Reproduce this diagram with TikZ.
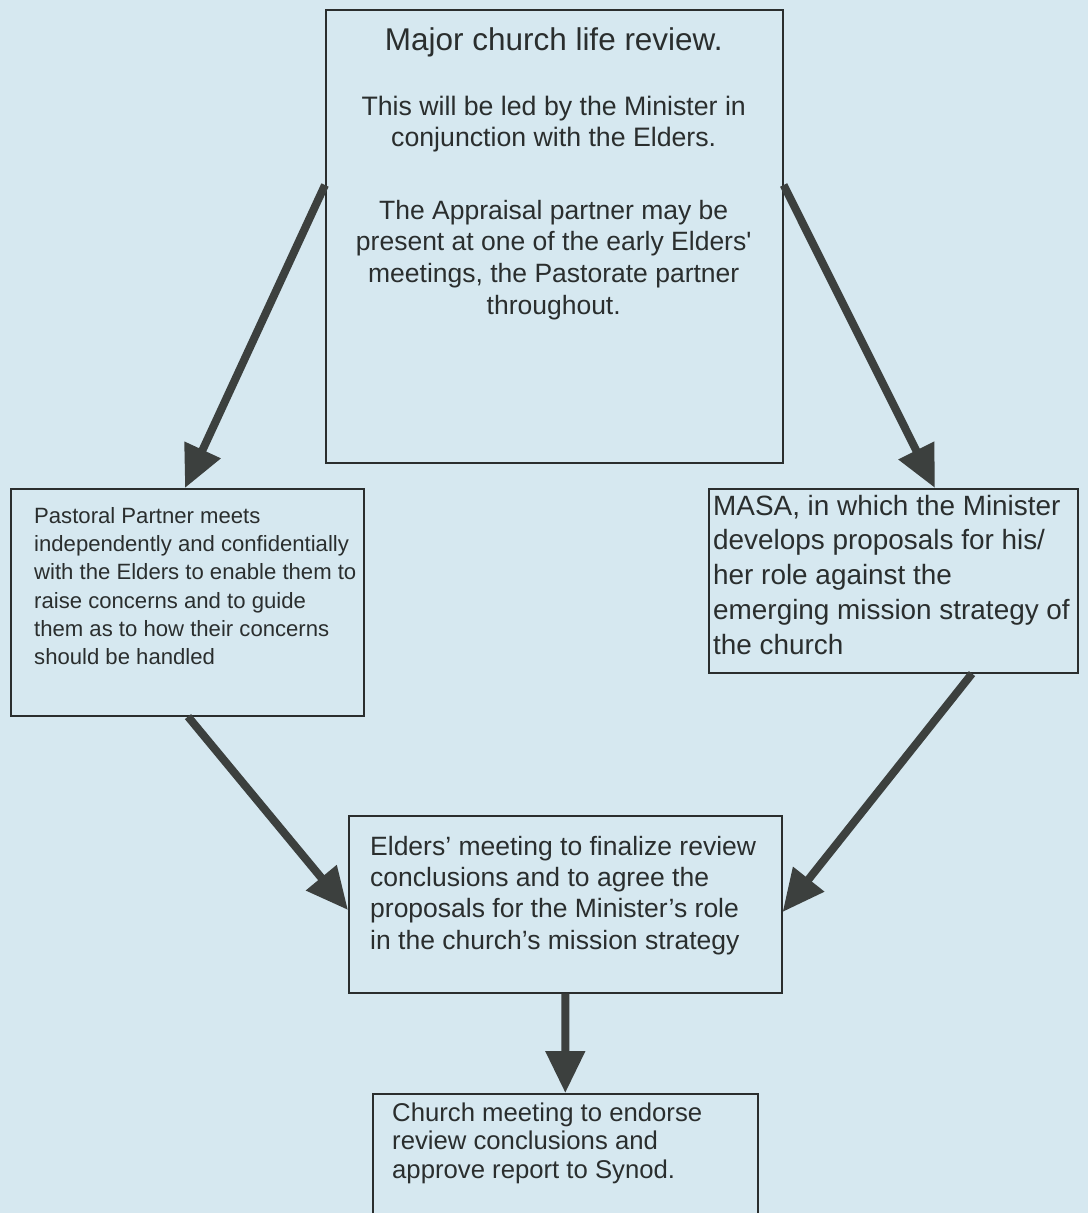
\documentclass[tikz,border=0pt]{standalone}
\usepackage{fontspec}
\setmainfont{Liberation Sans}[Ligatures=TeXOff]
\usetikzlibrary{arrows.meta,calc}
\definecolor{bg}{RGB}{214,232,240}
\definecolor{ink}{RGB}{42,46,46}
\definecolor{arr}{RGB}{60,64,62}
\tikzset{
  box/.style={draw=ink, line width=1.6bp, rectangle, inner sep=0pt, anchor=north west},
  txt/.style={anchor=base west, inner sep=0pt, text=ink},
  flow/.style={draw=arr, line width=8bp, -{Triangle[length=42bp,width=38bp]}},
}
\newcommand{\lefttext}[3]{\vtop{\hsize=700bp\parindent=0pt\raggedright\fontsize{#1}{#2}\selectfont #3\par}}
\newcommand{\centertext}[4]{\vtop{\hsize=#1bp\parindent=0pt\centering\fontsize{#2}{#3}\selectfont #4\par}}
\begin{document}
\begin{tikzpicture}[x=1bp,y=-1bp]
\useasboundingbox (0,0) rectangle (1088,1213);
\fill[bg] (0,0) rectangle (1088,1213);
\begin{scope}
\clip (0,0) rectangle (1088,1213);
% boxes
\node[box, minimum width=457bp, minimum height=453bp] (top) at (325,9) {};
\node[box, minimum width=353bp, minimum height=227bp] (left) at (10,488) {};
\node[box, minimum width=369bp, minimum height=184bp] (right) at (708,488) {};
\node[box, minimum width=433bp, minimum height=177bp] (mid) at (348,815) {};
\node[box, minimum width=385bp, minimum height=160bp] (bot) at (372,1093) {};
% texts
\node[txt] (title) at (325,50) {\centertext{457}{31.6}{36}{Major church life review.}};
\node[txt] (topa) at (325,115) {\centertext{457}{26.8}{32}{This will be led by the Minister in\\conjunction with the Elders.}};
\node[txt] (topb) at (325,219) {\centertext{457}{26.6}{32}{The Appraisal partner may be\\present at one of the early Elders'\\meetings, the Pastorate partner\\throughout.}};
\node[txt] (lefttxt) at (34,523) {\lefttext{22.2}{28.5}{Pastoral Partner meets\\independently and confidentially\\with the Elders to enable them to\\raise concerns and to guide\\them as to how their concerns\\should be handled}};
\node[txt] (righttxt) at (713,515) {\lefttext{28}{35}{MASA, in which the Minister\\develops proposals for his/\\her role against the\\emerging mission strategy of\\the church}};
\node[txt] (midtxt) at (370,855) {\lefttext{26.6}{31.5}{Elders’ meeting to finalize review\\conclusions and to agree the\\proposals for the Minister’s role\\in the church’s mission strategy}};
\node[txt] (bottxt) at (392,1121) {\lefttext{25.8}{29}{Church meeting to endorse\\review conclusions and\\approve report to Synod.}};
% connectors
\draw[flow] ([yshift=-176bp]top.north west) -- ([xshift=175bp]left.north west);
\draw[flow] ([yshift=-176bp]top.north east) -- ([xshift=227bp]right.north west);
\draw[flow] ([xshift=178bp]left.south west) -- ([yshift=-95bp]mid.north west);
\draw[flow] ([xshift=264bp]right.south west) -- ([yshift=-97bp]mid.north east);
\draw[flow] (mid.south) -- (bot.north);
\end{scope}
\end{tikzpicture}
\end{document}
